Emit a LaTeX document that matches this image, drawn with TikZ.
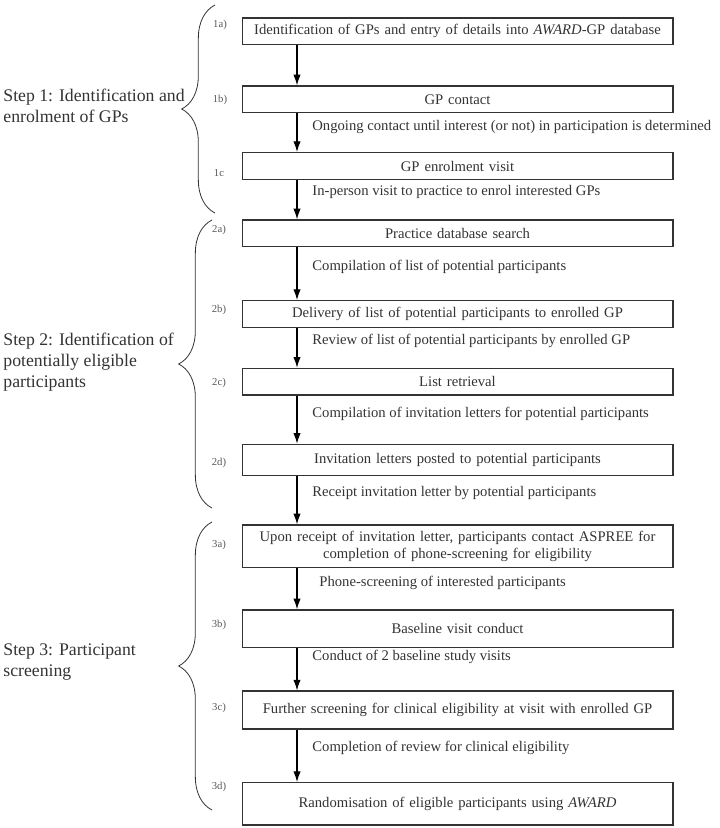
\documentclass[tikz,border=0pt]{standalone}
\usepackage{fontspec}
\setmainfont{Liberation Serif}
\usetikzlibrary{arrows.meta, decorations.pathreplacing}

\begin{document}
\begin{tikzpicture}[
            x = 0.75pt, y = -0.75pt, % one unit per pixel, y going down
            > = {Latex[length = 8pt, width = 5.5pt]}, % arrow head style
            every node/.style = {text = black!80},
            semithick % line style
        ]

        \tikzstyle{stage}=[
            draw = black!80,
            line width = 1pt,
            fill = white,
            minimum width = 323pt,
            minimum height = 20pt,
            text width = 318pt,
            align = center,
            inner sep = 1pt,
            font = \fontsize{11}{13}\selectfont
        ]
        \tikzstyle{note}=[
            anchor = west,
            inner sep = 0pt,
            font = \fontsize{11}{13}\selectfont
        ]
        \tikzstyle{tag}=[
            inner sep = 0pt,
            text = black!65,
            font = \fontsize{8}{9}\selectfont
        ]
        \tikzstyle{phase}=[
            anchor = west,
            align = left,
            inner sep = 0pt,
            font = \fontsize{13.3}{16}\selectfont
        ]
        \tikzstyle{brace}=[
            draw = black!80,
            decorate,
            decoration = {brace, amplitude = 25pt}
        ]

        \useasboundingbox (0,0) rectangle (720,828);

        % boxes
        \node[stage] (s1a) at (457.5,31.3) {Identification of GPs and entry of details into \textit{AWARD}-GP database};
        \node[stage] (s1b) at (457.5,99.3) {GP contact};
        \node[stage] (s1c) at (457.5,166) {GP enrolment visit};
        \node[stage] (s2a) at (457.5,233.3) {Practice database search};
        \node[stage] (s2b) at (457.5,314) {Delivery of list of potential participants to enrolled GP};
        \node[stage] (s2c) at (457.5,381.7) {List retrieval};
        \node[stage, minimum height = 23.5pt] (s2d) at (457.5,460) {Invitation letters posted to potential participants};
        \node[stage, minimum height = 32pt] (s3a) at (457.5,546.3) {Upon receipt of invitation letter, participants contact ASPREE for\\completion of phone-screening for eligibility};
        \node[stage, minimum height = 28.3pt] (s3b) at (457.5,628.8) {Baseline visit conduct};
        \node[stage, minimum height = 28.3pt] (s3c) at (457.5,710) {Further screening for clinical eligibility at visit with enrolled GP};
        \node[stage, minimum height = 31.7pt] (s3d) at (457.5,803.8) {Randomisation of eligible participants using \textit{AWARD}};

        % numbers
        \node[tag] (t1a) at (220,25) {1a)};
        \node[tag] (t1b) at (220,100) {1b)};
        \node[tag] (t1c) at (219,173) {1c};
        \node[tag] (t2a) at (219,230) {2a)};
        \node[tag] (t2b) at (219,310) {2b)};
        \node[tag] (t2c) at (219,383) {2c)};
        \node[tag] (t2d) at (219,463) {2d)};
        \node[tag] (t3a) at (219,545) {3a)};
        \node[tag] (t3b) at (219,625) {3b)};
        \node[tag] (t3c) at (219,708) {3c)};
        \node[tag] (t3d) at (219,787) {3d)};

        % arrows
        \coordinate (ax) at (297,0);
        \draw[->, thick] (s1a.south -| ax) -- (s1b.north -| ax);
        \draw[->, thick] (s1b.south -| ax) -- (s1c.north -| ax);
        \draw[->, thick] (s1c.south -| ax) -- (s2a.north -| ax);
        \draw[->, thick] (s2a.south -| ax) -- (s2b.north -| ax);
        \draw[->, thick] (s2b.south -| ax) -- (s2c.north -| ax);
        \draw[->, thick] (s2c.south -| ax) -- (s2d.north -| ax);
        \draw[->, thick] (s2d.south -| ax) -- (s3a.north -| ax);
        \draw[->, thick] (s3a.south -| ax) -- (s3b.north -| ax);
        \draw[->, thick] (s3b.south -| ax) -- (s3c.north -| ax);
        \draw[->, thick] (s3c.south -| ax) -- (s3d.north -| ax);

        % arrow texts
        \node[note] (n1b) at (312,126.7) {Ongoing contact until interest (or not) in participation is determined};
        \node[note] (n1c) at (312,191.7) {In-person visit to practice to enrol interested GPs};
        \node[note] (n2a) at (312,266.7) {Compilation of list of potential participants};
        \node[note] (n2b) at (312,340.7) {Review of list of potential participants by enrolled GP};
        \node[note] (n2c) at (312,414) {Compilation of invitation letters for potential participants};
        \node[note] (n2d) at (312,493.3) {Receipt invitation letter by potential participants};
        \node[note] (n3a) at (319,583) {Phone-screening of interested participants};
        \node[note] (n3b) at (312,656.7) {Conduct of 2 baseline study visits};
        \node[note] (n3c) at (312,748) {Completion of review for clinical eligibility};

        % steps
        \node[phase] (p1) at (3,106) {Step 1: Identification and\\enrolment of GPs};
        \node[phase] (p2) at (3,362) {Step 2: Identification of\\potentially eligible\\participants};
        \node[phase] (p3) at (3,662) {Step 3: Participant\\screening};

        \draw[brace] (215,213) -- (215,5);
        \draw[brace] (212,508) -- (212,220);
        \draw[brace] (212,810) -- (212,522);
    \end{tikzpicture}
\end{document}
